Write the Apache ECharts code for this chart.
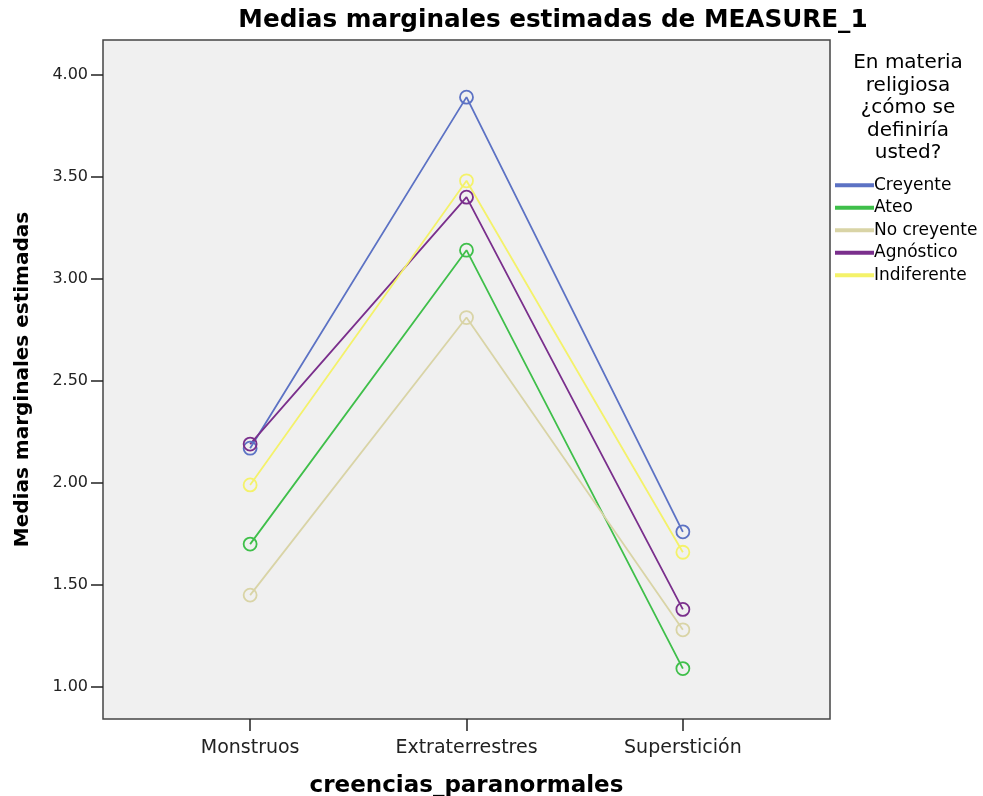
<!DOCTYPE html>
<html><head><meta charset="utf-8">
<script src="https://cdn.jsdelivr.net/npm/echarts@6/dist/echarts.min.js"></script>
<style>html,body{margin:0;padding:0;background:#fff}#c{width:983px;height:796px}</style>
</head><body><div id="c"></div>
<script>
const categories = ['Monstruos', 'Extraterrestres', 'Superstición'];
const yTicks = [1.0, 1.5, 2.0, 2.5, 3.0, 3.5, 4.0];
const creyente = [2.17, 3.89, 1.76];
const ateo = [1.70, 3.14, 1.09];
const noCreyente = [1.45, 2.81, 1.28];
const agnostico = [2.19, 3.40, 1.38];
const indiferente = [1.99, 3.48, 1.66];

const seriesDefs = [
  ['Creyente', creyente, '#5c72c4'],
  ['Ateo', ateo, '#3fbf4a'],
  ['No creyente', noCreyente, '#d9d4a6'],
  ['Agnóstico', agnostico, '#7a2f8c'],
  ['Indiferente', indiferente, '#f4f26a']
];

const font = 'DejaVu Sans, Verdana, sans-serif';
const chart = echarts.init(document.getElementById('c'));
chart.setOption({
  backgroundColor: '#ffffff',
  animation: false,
  title: {
    text: 'Medias marginales estimadas de MEASURE_1',
    left: 548, top: 3, textAlign: 'center',
    textStyle: {fontFamily: font, fontSize: 24.7, fontWeight: 'bold', color: '#000'}
  },
  graphic: [{
    type: 'text', x: 908, y: 52,
    style: {
      text: 'En materia\nreligiosa\n¿cómo se\ndefiniría\nusted?',
      align: 'center', verticalAlign: 'top',
      font: '20px DejaVu Sans', lineHeight: 22.5, fill: '#000'
    }
  }],
  legend: {
    orient: 'vertical', left: 830, top: 169, itemGap: 0,
    itemWidth: 37, itemHeight: 2, icon: 'rect',
    textStyle: {fontFamily: font, fontSize: 17, lineHeight: 22.5, color: '#000', padding: [0,0,0,-4]},
    data: seriesDefs.map(s => s[0])
  },
  grid: {left: 103, right: 153, top: 40, bottom: 77, show: true, outerBoundsMode: 'none', containLabel: false,
    backgroundColor: '#f0f0f0', borderColor: '#444', borderWidth: 1.5},
  xAxis: {
    type: 'value', min: -0.68, max: 2.68,
    name: 'creencias_paranormales', nameLocation: 'middle', nameGap: 56,
    nameTextStyle: {fontFamily: font, fontSize: 23, fontWeight: 'bold', color: '#000'},
    axisLine: {show: false, onZero: false},
    axisTick: {show: true, length: 12, lineStyle: {color: '#222', width: 1.5}, customValues: [0, 1, 2]},
    axisLabel: {customValues: [0, 1, 2], margin: 20, fontFamily: font, fontSize: 19, color: '#222',
      formatter: v => categories[Math.round(v)]},
    splitLine: {show: false}
  },
  yAxis: {
    type: 'value', min: 0.843, max: 4.17,
    name: 'Medias marginales estimadas', nameLocation: 'middle', nameGap: 70,
    nameTextStyle: {fontFamily: font, fontSize: 20, fontWeight: 'bold', color: '#000'},
    axisLine: {show: false, onZero: false},
    axisTick: {show: true, length: 12, lineStyle: {color: '#222', width: 1.5}, customValues: yTicks},
    axisLabel: {customValues: yTicks, margin: 15, fontFamily: font, fontSize: 16, color: '#222',
      formatter: v => v.toFixed(2)},
    splitLine: {show: false}
  },
  series: seriesDefs.map(([name, vals, color]) => ({
    name, type: 'line',
    data: vals.map((v, i) => [i, v]),
    symbol: 'circle', symbolSize: 13, showSymbol: true,
    itemStyle: {color: 'transparent', borderColor: color, borderWidth: 1.8},
    lineStyle: {color: color, width: 1.8},
    emphasis: {disabled: true}
  }))
});
</script></body></html>
